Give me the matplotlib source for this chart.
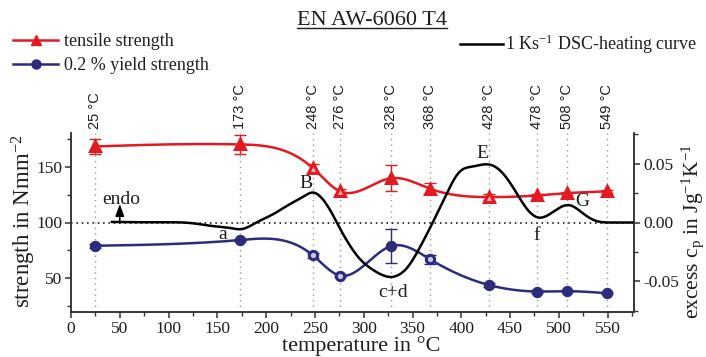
import numpy as np
import matplotlib
matplotlib.use("Agg")
import matplotlib.pyplot as plt
from matplotlib.lines import Line2D
import matplotlib.transforms as mtransforms

plt.rcParams['font.family'] = ['Liberation Serif', 'DejaVu Serif']
plt.rcParams['mathtext.fontset'] = 'custom'
plt.rcParams['mathtext.rm'] = 'Liberation Serif'
plt.rcParams['mathtext.it'] = 'Liberation Serif:italic'
plt.rcParams['axes.unicode_minus'] = False

# heat treatment temperatures (°C)
temps = [25, 173, 248, 276, 328, 368, 428, 478, 508, 549]

# tensile strength and 0.2 % yield strength (N/mm^2) with scatter
tensile = [168.0, 169.8, 148.5, 127.8, 139.6, 130.2, 122.7, 124.2, 126.2, 127.8]
tensile_err = [6.5, 8.5, 3.7, 2.0, 11.7, 4.7, 2.5, 1.2, 1.2, 1.0]
yield_str = [79.2, 84.3, 70.6, 52.5, 78.9, 67.1, 44.2, 38.3, 38.6, 36.8]
yield_err = [2.0, 1.0, 2.0, 1.5, 15.3, 4.2, 1.5, 1.0, 1.0, 1.0]

# DSC heating curve at 1 K/s, excess cp in J/(g K)
dsc_T = [42, 60, 80, 100, 115, 130, 145, 163, 175, 190, 207, 224, 238, 248,
         258, 267, 276, 286, 296, 308, 318, 328, 336, 344, 357, 371, 385,
         398, 412, 430, 443, 457, 467, 479, 494, 511, 525, 538, 552, 577]
dsc_cp = [0.0005, 0.0003, 0.0002, 0.0002, 0.0, -0.0012, -0.0030, -0.0047,
          -0.0056, 0.0, 0.0070, 0.0155, 0.0220, 0.0255, 0.0198, 0.0085,
          -0.0056, -0.0198, -0.0310, -0.0395, -0.0443, -0.0464, -0.0445,
          -0.0390, -0.0220, 0.0005, 0.0246, 0.0429, 0.0477, 0.0491, 0.0415,
          0.0246, 0.0119, 0.0042, 0.0090, 0.0147, 0.0076, 0.0014, 0.0, 0.0]

# peak labels on the DSC curve (x in °C, y in strength units)
peak_text = ['B', 'a', 'c+d', 'E', 'f', 'G']
peak_x = [241, 155, 330, 422, 477, 524]
peak_y = [135, 89.5, 37.5, 161.5, 88, 118.5]

hollow_red = [248, 276, 428]
hollow_blue = [248, 276, 368]

RED = '#e41a22'
BLUE = '#2d2c7c'
INK = '#1e1e1e'


def spline(x, y, xs):
    # natural cubic spline through the measured points
    x = np.asarray(x, float)
    y = np.asarray(y, float)
    n = len(x)
    h = np.diff(x)
    A = np.zeros((n, n))
    rhs = np.zeros(n)
    A[0, 0] = A[-1, -1] = 1
    for i in range(1, n - 1):
        A[i, i - 1] = h[i - 1]
        A[i, i] = 2 * (h[i - 1] + h[i])
        A[i, i + 1] = h[i]
        rhs[i] = 3 * ((y[i + 1] - y[i]) / h[i] - (y[i] - y[i - 1]) / h[i - 1])
    c = np.linalg.solve(A, rhs)
    b = (y[1:] - y[:-1]) / h - h * (2 * c[:-1] + c[1:]) / 3
    d = (c[1:] - c[:-1]) / (3 * h)
    idx = np.clip(np.searchsorted(x, xs) - 1, 0, n - 2)
    dx = xs - x[idx]
    return y[idx] + b[idx] * dx + c[idx] * dx ** 2 + d[idx] * dx ** 3


fig = plt.figure(figsize=(7.06, 3.57), dpi=100)
ax = fig.add_axes([71 / 706, 1 - 312 / 357, 563 / 706, 179 / 357])
ax2 = ax.twinx()

ax.set_xlim(0, 577)
ax.set_ylim(20, 180)
ax2.set_ylim(-0.0762, 0.0762)

for a in (ax, ax2):
    a.spines['top'].set_visible(False)
    for s in a.spines.values():
        s.set_linewidth(1.1)
        s.set_color('#333333')

# vertical markers for the heat treatment temperatures
trans = mtransforms.blended_transform_factory(ax.transData, ax.transAxes)
for t in temps:
    ax.axvline(t, color='#9a9a9a', ls=(0, (1, 3)), lw=1.0, zorder=1)
    ax.text(t, 1.022, f'{t} °C', transform=trans, rotation=90, ha='center',
            va='bottom', fontsize=10.5, family=['Liberation Sans'], color=INK)

ax2.axhline(0, color='black', ls=(0, (1, 2.5)), lw=1.1, zorder=1)

xs = np.linspace(temps[0], temps[-1], 600)
ax.plot(xs, spline(temps, tensile, xs), color=RED, lw=1.8, zorder=3)
ax.plot(xs, spline(temps, yield_str, xs), color=BLUE, lw=1.8, zorder=3)

ax.errorbar(temps, tensile, yerr=tensile_err, fmt='none', ecolor=RED,
            elinewidth=1.0, capsize=4, capthick=1.0, zorder=4)
ax.errorbar(temps, yield_str, yerr=yield_err, fmt='none', ecolor=BLUE,
            elinewidth=1.0, capsize=4, capthick=1.0, zorder=4)

for t, v in zip(temps, tensile):
    ax.plot(t, v, marker='^', ms=6.5, color=RED, mec=RED, mew=2.2,
            mfc='#f4b0b0' if t in hollow_red else RED, zorder=5)
for t, v in zip(temps, yield_str):
    ax.plot(t, v, marker='o', ms=6, color=BLUE, mec=BLUE, mew=2.2,
            mfc='#c8c8e0' if t in hollow_blue else BLUE, zorder=5)

ts = np.linspace(dsc_T[0], dsc_T[-1], 800)
ax2.plot(ts, spline(dsc_T, dsc_cp, ts), color='black', lw=1.8, zorder=2)

for txt, px, py in zip(peak_text, peak_x, peak_y):
    ax.text(px, py, txt, ha='center', va='center', fontsize=14, color=INK)

ax.text(52, 121, 'endo', ha='center', va='center', fontsize=14, color=INK)
ax.annotate('', xy=(50, 116.5), xytext=(50, 100),
            arrowprops=dict(arrowstyle='-|>,head_length=0.6,head_width=0.22',
                            mutation_scale=12, color='black', lw=1.1,
                            shrinkA=0, shrinkB=0))

ax.set_xticks(np.arange(0, 551, 50))
ax.set_xticks(np.arange(25, 577, 50), minor=True)
ax.set_yticks([50, 100, 150])
ax.set_yticks([25, 75, 125, 175], minor=True)
ax2.set_yticks([-0.05, 0.0, 0.05])
ax2.set_yticks([-0.075, -0.025, 0.025, 0.075], minor=True)
ax2.set_yticklabels(['-0.05', '0.00', '0.05'])
for a in (ax, ax2):
    a.tick_params(which='major', length=4.5, width=1.1, color='#333333',
                  labelsize=12.5, labelcolor=INK, pad=2)
    a.tick_params(which='minor', length=3, width=1.0, color='#333333')

ax.set_xlabel('temperature in °C', fontsize=16, color=INK)
ax.xaxis.set_label_coords(0.515, -0.133)
ax.set_ylabel('strength in Nmm$^{-2}$', fontsize=16.5, color=INK)
ax.yaxis.set_label_coords(-0.058, 0.505)
ax2.set_ylabel('excess c$_\\mathrm{p}$ in Jg$^{-1}$K$^{-1}$', fontsize=15.5,
               color=INK)
ax2.yaxis.set_label_coords(1.08, 0.452)

h_red = Line2D([], [], color=RED, lw=1.8, marker='^', ms=7)
h_blue = Line2D([], [], color=BLUE, lw=1.8, marker='o', ms=6.5)
fig.legend([h_red, h_blue], ['tensile strength', '0.2 % yield strength'],
           loc='upper left', bbox_to_anchor=(13 / 706, 1 - 33 / 357),
           frameon=False, fontsize=13, borderpad=0, borderaxespad=0,
           handlelength=2.5, handletextpad=0.3, labelspacing=0.4,
           labelcolor=INK)
h_dsc = Line2D([], [], color='black', lw=1.8)
fig.legend([h_dsc], ['1 Ks$^{-1}$ DSC-heating curve'], loc='upper left',
           bbox_to_anchor=(460 / 706, 1 - 33 / 357), frameon=False,
           fontsize=13, borderpad=0, borderaxespad=0, handlelength=2.4,
           handletextpad=0.1, labelcolor=INK)

title = fig.text(372 / 706, 1 - 25 / 357, 'EN AW-6060 T4', ha='center',
                 va='baseline', fontsize=16, color=INK)
fig.canvas.draw()
bb = title.get_window_extent()
fig.add_artist(Line2D([bb.x0 / 706, bb.x1 / 706],
                      [1 - 28 / 357, 1 - 28 / 357],
                      transform=fig.transFigure, color=INK, lw=1.0))

fig.savefig('out.png', dpi=100)
